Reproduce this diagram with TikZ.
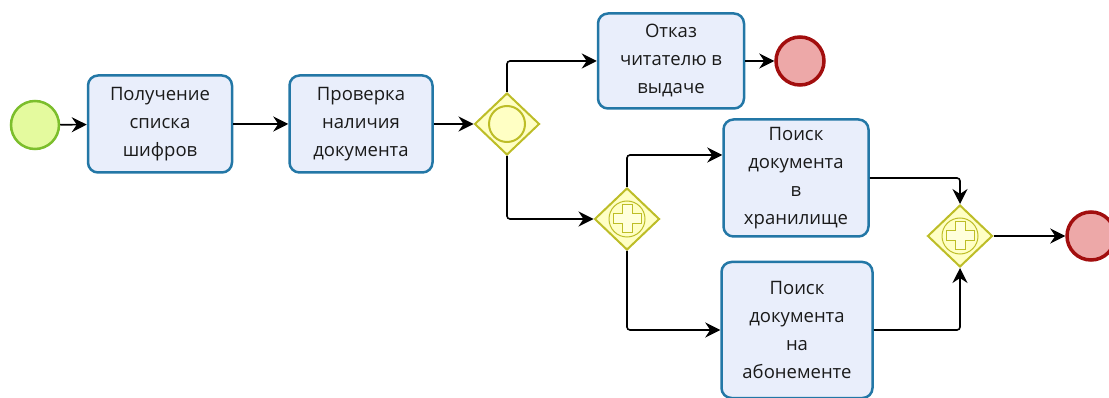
\documentclass[tikz,border=0pt]{standalone}
\usepackage{fontspec}
\setmainfont{Open Sans}
\usetikzlibrary{shapes.geometric,arrows.meta}

\definecolor{taskfill}{HTML}{E9EEFB}
\definecolor{taskdraw}{HTML}{2377A6}
\definecolor{startfill}{HTML}{E4FA9E}
\definecolor{startdraw}{HTML}{7CBE2C}
\definecolor{endfill}{HTML}{EDA8A8}
\definecolor{enddraw}{HTML}{A20E0E}
\definecolor{gwfill}{HTML}{FFFFC4}
\definecolor{gwdraw}{HTML}{BDBD27}
\definecolor{txt}{HTML}{1A1A1A}

\tikzset{
  task/.style={draw=taskdraw, fill=taskfill, line width=2.5pt, rounded corners=10pt,
    align=center, inner sep=0pt, text=txt, font=\fontsize{18.5}{28}\selectfont},
  startev/.style={circle, draw=startdraw, fill=startfill, line width=2.5pt, minimum size=48pt, inner sep=0pt},
  endev/.style={circle, draw=enddraw, fill=endfill, line width=3.5pt, minimum size=48pt, inner sep=0pt},
  gateway/.style={diamond, draw=gwdraw, fill=gwfill, line width=2pt, minimum width=65pt, minimum height=62pt, inner sep=0pt},
  flow/.style={line width=1.6pt, black, rounded corners=3pt, -{Stealth[length=15pt, width=15pt, inset=5pt]}},
  gwmark/.style={draw=gwdraw, line width=2pt},
  plusmark/.style={draw=gwdraw, fill=gwfill!60!white, line width=1pt}
}

% outlined plus sign of a parallel gateway
\newcommand{\plussign}[1]{%
  \draw[gwdraw, line width=1pt] (#1) circle (18pt);
  \draw[plusmark, shift={(#1)}] (-5,-14) -- (5,-14) -- (5,-5) -- (14,-5) -- (14,5) -- (5,5)
    -- (5,14) -- (-5,14) -- (-5,5) -- (-14,5) -- (-14,-5) -- (-5,-5) -- cycle;}

\begin{document}
\begin{tikzpicture}[x=1pt, y=-1pt]
\useasboundingbox (0,0) rectangle (1109,398);

% events
\node[startev] (start) at (35,125) {};
\node[endev] (end1) at (800,61) {};
\node[endev] (end2) at (1091,236) {};

% tasks
\node[task, minimum width=144pt, minimum height=97pt] (t1) at (160,124) {Получение\\списка\\шифров};
\node[task, minimum width=143pt, minimum height=97pt] (t2) at (361,124) {Проверка\\наличия\\документа};
\node[task, minimum width=146pt, minimum height=95pt] (rej) at (671,61) {Отказ\\читателю в\\выдаче};
\node[task, minimum width=145pt, minimum height=117pt] (t3) at (796,178) {Поиск\\документа\\в\\хранилище};
\node[task, minimum width=151pt, minimum height=136pt] (t4) at (797,330) {Поиск\\документа\\на\\абонементе};

% gateways
\node[gateway] (g1) at (507,124) {};
\draw[gwmark] (g1) circle (18pt);
\node[gateway] (g2) at (627,219) {};
\plussign{g2}
\node[gateway] (g3) at (960,236) {};
\plussign{g3}

% sequence flows
\draw[flow] (start) -- (t1);
\draw[flow] (t1) -- (t2);
\draw[flow] (t2) -- (g1);
\draw[flow] (g1.north) |- (rej.west);
\draw[flow] (rej) -- (end1);
\draw[flow] (g1.south) |- (g2.west);
\draw[flow] (g2.north) |- ([yshift=23pt]t3.west);
\draw[flow] (g2.south) |- (t4.west);
\draw[flow] (t3.east) -| (g3.north);
\draw[flow] (t4.east) -| (g3.south);
\draw[flow] (g3) -- (end2);
\end{tikzpicture}
\end{document}
